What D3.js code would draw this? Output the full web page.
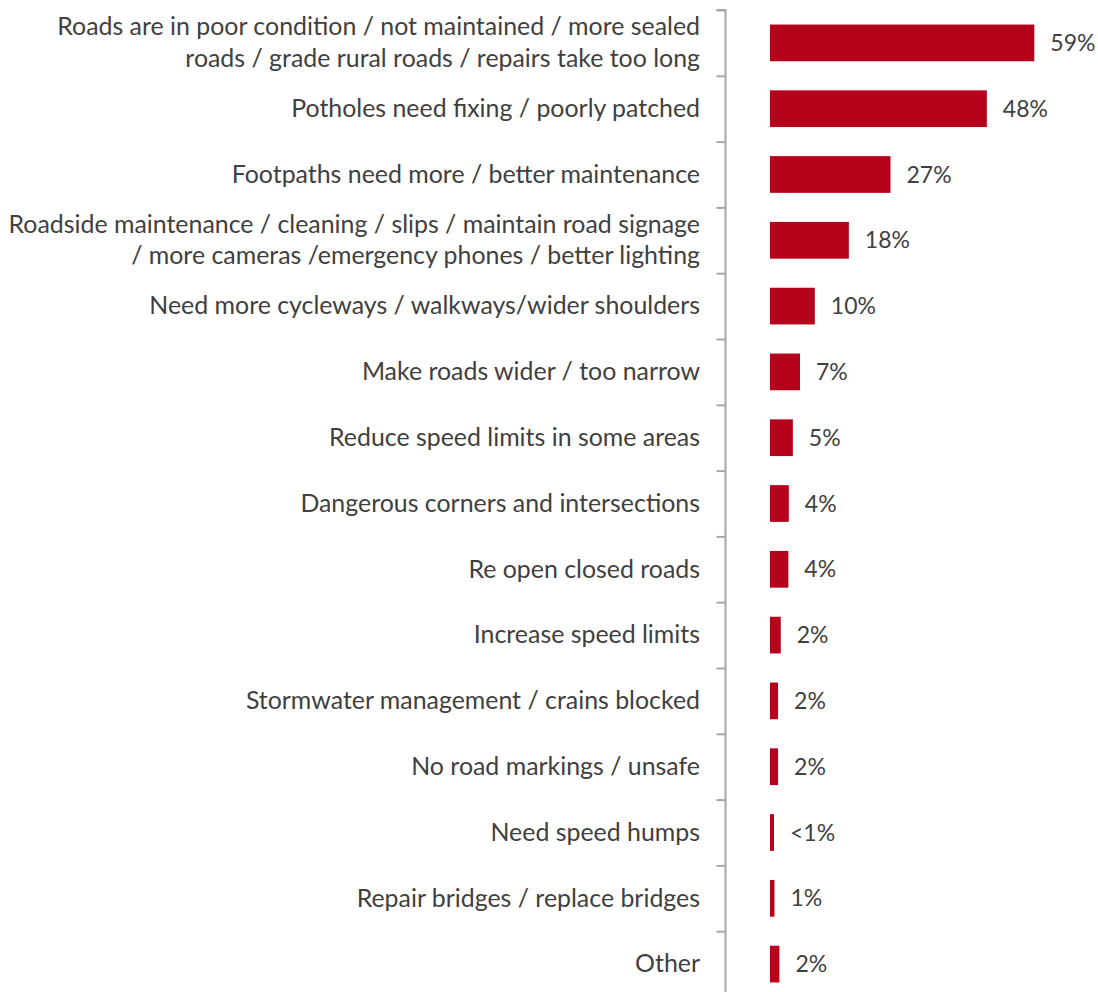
<!DOCTYPE html>
<html>
<head>
<meta charset="utf-8">
<script src="https://cdn.jsdelivr.net/npm/d3@7"></script>
<style>
  html, body { margin: 0; padding: 0; background: #ffffff; }
  svg { display: block; }
  text { font-family: Lato, "Open Sans", sans-serif; fill: #404040; }
</style>
</head>
<body>
<svg id="chart" width="1098" height="992"></svg>
<script>
// Categories (lines separated by "\n"), top to bottom
const categories = [
  "Roads are in poor condition / not maintained / more sealed\nroads / grade rural roads / repairs take too long",
  "Potholes need fixing / poorly patched",
  "Footpaths need more / better maintenance",
  "Roadside maintenance / cleaning / slips / maintain road signage\n/ more cameras /emergency phones / better lighting",
  "Need more cycleways / walkways/wider shoulders",
  "Make roads wider / too narrow",
  "Reduce speed limits in some areas",
  "Dangerous corners and intersections",
  "Re open closed roads",
  "Increase speed limits",
  "Stormwater management / crains blocked",
  "No road markings / unsafe",
  "Need speed humps",
  "Repair bridges / replace bridges",
  "Other"
];

// Share of respondents mentioning each issue (%)
const values = [59.0, 48.4, 26.9, 17.6, 10.0, 6.7, 5.1, 4.2, 4.1, 2.4, 1.8, 1.8, 0.9, 1.0, 2.1];

const data = categories.map((c, i) => ({ key: i, lines: c.split("\n"), value: values[i] }));

const svg = d3.select("#chart");

const plotTop = 10, plotBottom = 997;
const axisX = 725.5, barX0 = 770;
const labelFont = 24.9, valueFont = 23;

// Category band scale: bars centred in each band
const y = d3.scaleBand()
  .domain(d3.range(categories.length))
  .range([plotTop, plotBottom])
  .paddingInner(0.442)
  .paddingOuter(0.221);

// Tick positions sit on the band boundaries
const yEdge = d3.scaleLinear().domain([0, categories.length]).range([plotTop, plotBottom]);

const x = d3.scaleLinear().domain([0, 60]).range([barX0, barX0 + 268.8]);

// Category axis
const axis = d3.axisLeft(yEdge)
  .tickValues(d3.range(categories.length + 1))
  .tickSize(9)
  .tickFormat("");
const gAxis = svg.append("g")
  .attr("transform", `translate(${axisX},0)`)
  .call(axis);
gAxis.select(".domain").attr("stroke", "#a6a6a6").attr("stroke-width", 2).attr("d", `M-9,${plotTop}H0V${plotBottom}`);
gAxis.selectAll(".tick line").attr("stroke", "#a6a6a6").attr("stroke-width", 2);

// Bars
svg.append("g").selectAll("rect")
  .data(data)
  .join("rect")
  .attr("x", x(0))
  .attr("y", d => y(d.key))
  .attr("width", d => x(d.value) - x(0))
  .attr("height", y.bandwidth())
  .attr("fill", "#b5031b");

// Value labels
const fmt = v => v < 1 ? "<1%" : Math.round(v) + "%";
svg.append("g").selectAll("text")
  .data(data)
  .join("text")
  .attr("x", d => x(d.value) + 16)
  .attr("y", d => y(d.key) + y.bandwidth() / 2)
  .attr("dy", "0.35em")
  .style("font-size", valueFont + "px")
  .text(d => fmt(d.value));

// Category labels, right-aligned against the axis
const lineGap = 31.5;
const labels = svg.append("g").selectAll("text")
  .data(data)
  .join("text")
  .attr("text-anchor", "end")
  .style("font-size", labelFont + "px");
labels.each(function(d) {
  const cy = y(d.key) + y.bandwidth() / 2;
  const n = d.lines.length;
  d3.select(this).selectAll("tspan")
    .data(d.lines)
    .join("tspan")
    .attr("x", 700)
    .attr("y", (l, i) => cy + (i - (n - 1) / 2) * lineGap)
    .attr("dy", "0.33em")
    .text(l => l);
});
</script>
</body>
</html>
